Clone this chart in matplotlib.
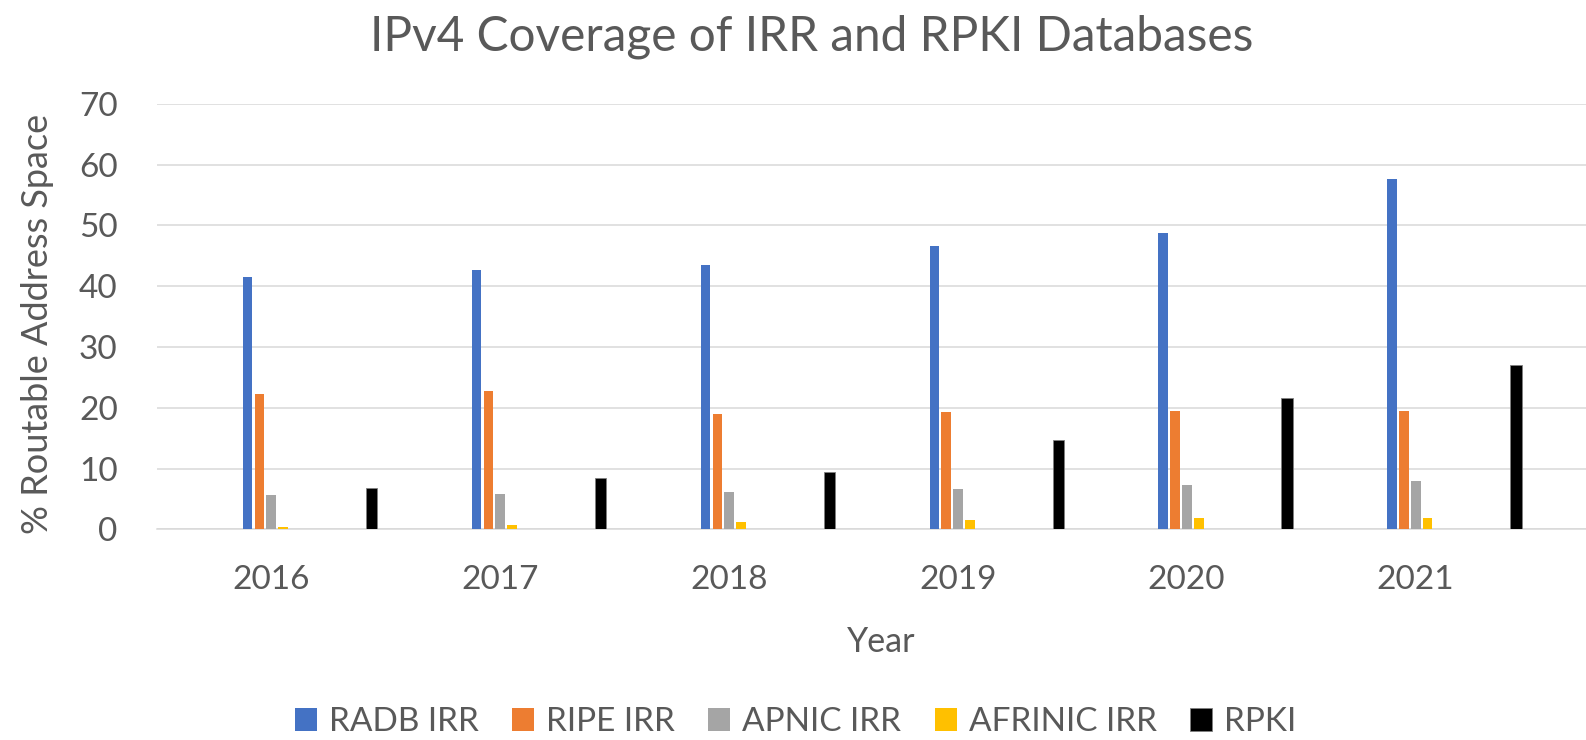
import numpy as np
import matplotlib.pyplot as plt

years = ["2016", "2017", "2018", "2019", "2020", "2021"]
series_names = ["RADB IRR", "RIPE IRR", "APNIC IRR", "AFRINIC IRR", "RPKI"]
radb = [41.5, 42.7, 43.5, 46.6, 48.7, 57.6]
ripe = [22.2, 22.7, 19.0, 19.3, 19.4, 19.4]
apnic = [5.6, 5.8, 6.2, 6.6, 7.3, 7.9]
afrinic = [0.4, 0.7, 1.2, 1.6, 1.9, 1.9]
rpki = [6.8, 8.5, 9.4, 14.7, 21.6, 27.0]

colors = ["#4472C4", "#ED7D31", "#A5A5A5", "#FFC000", "#000000"]
# offset of each series from the category centre, in category widths
offsets = [-0.102, -0.050, 0.001, 0.053, 0.439]
widths = [0.042, 0.042, 0.042, 0.042, 0.049]

plt.rcParams["font.family"] = ["Lato", "DejaVu Sans"]
text_col = "#595959"

fig = plt.figure(figsize=(15.86, 7.4), dpi=100)
ax = fig.add_axes([0.0987, 0.2847, 0.9013, 0.5748])

x = np.arange(len(years))
data = [radb, ripe, apnic, afrinic, rpki]
for vals, name, c, off, w in zip(data, series_names, colors, offsets, widths):
    ec = "#7f7f7f" if c == "#000000" else "none"
    ax.bar(x + off, vals, width=w, color=c, label=name, edgecolor=ec, linewidth=0.6, zorder=3)

ax.set_ylim(0, 70)
ax.set_yticks(range(0, 71, 10))
ax.set_xlim(-0.5, (1586 - 271) / 228.9)
ax.set_xticks(x)
ax.set_xticklabels(years)
ax.grid(axis="y", color="#D9D9D9", linewidth=1.1, zorder=0)
for s in ["top", "right", "left"]:
    ax.spines[s].set_visible(False)
ax.spines["bottom"].set_color("#D9D9D9")
ax.spines["bottom"].set_linewidth(1.1)
ax.tick_params(axis="both", length=0, labelsize=24, colors=text_col)
ax.tick_params(axis="x", pad=26)
ax.tick_params(axis="y", pad=28)

ax.set_xlabel("Year", fontsize=24.5, color=text_col)
ax.set_ylabel("% Routable Address Space", fontsize=26, color=text_col)
ax.xaxis.set_label_coords((881 - 156.6) / (1586 - 156.6), -0.227)
ax.yaxis.set_label_coords(-0.072, 0.482)

fig.text(812 / 1586, 1 - 37 / 740, "IPv4 Coverage of IRR and RPKI Databases",
         ha="center", va="center", fontsize=34.4, color=text_col)

leg = fig.legend(loc="center", bbox_to_anchor=(795.5 / 1586, 1 - 722 / 740), ncol=5,
                 frameon=False, fontsize=24, handlelength=0.66, handleheight=0.66,
                 handletextpad=0.36, columnspacing=1.0, labelcolor=text_col,
                 borderpad=0, borderaxespad=0)

fig.savefig("out.png", dpi=100)
